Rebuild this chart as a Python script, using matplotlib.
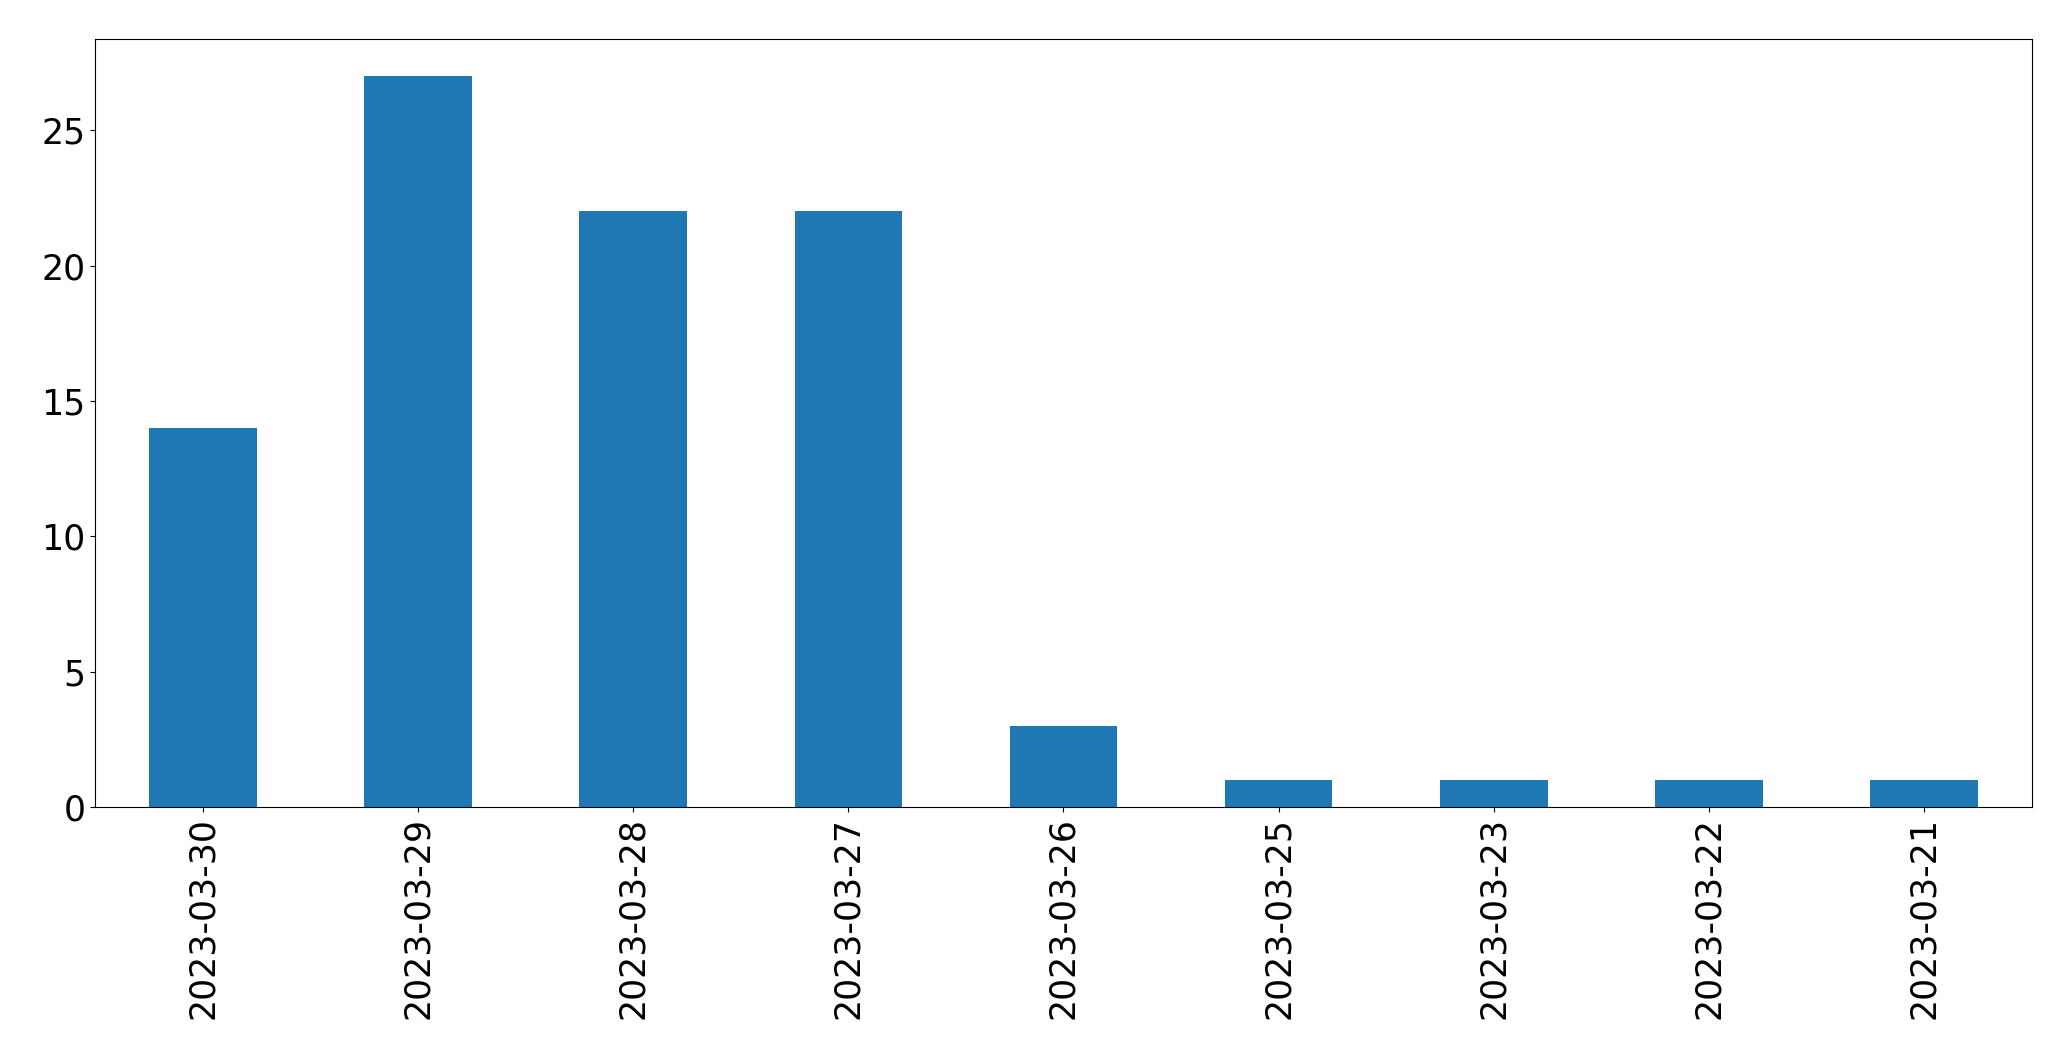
import matplotlib
matplotlib.use("Agg")
import matplotlib.pyplot as plt

dates = ["2023-03-30", "2023-03-29", "2023-03-28", "2023-03-27", "2023-03-26",
         "2023-03-25", "2023-03-23", "2023-03-22", "2023-03-21"]
counts = [14, 27, 22, 22, 3, 1, 1, 1, 1]

fig = plt.figure(figsize=(20.71, 10.61), dpi=100)
ax = fig.add_axes([0.046, 0.239, 0.935, 0.724])
x = list(range(len(dates)))
ax.bar(x, counts, width=0.5, color="#1f77b4")
ax.set_xlim(-0.5, len(dates) - 0.5)
ax.set_ylim(0, max(counts) * 1.05)
ax.set_xticks(x)
ax.set_xticklabels(dates, rotation=90)
ax.set_yticks([0, 5, 10, 15, 20, 25])
ax.tick_params(labelsize=25)
fig.savefig("out.png", dpi=100)
